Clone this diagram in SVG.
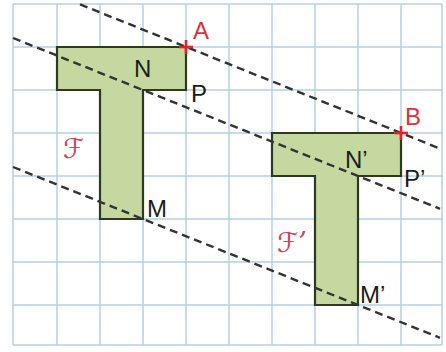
<svg xmlns="http://www.w3.org/2000/svg" width="446" height="352" viewBox="0 0 446 352">
<style>
.grid line{stroke:#b3d0e6;stroke-width:1.5}
.shape{fill:#c4d89f;stroke:#2c3a22;stroke-width:2.2;stroke-linejoin:miter}
.dash{stroke:#333;stroke-width:2.4;stroke-dasharray:8 5;fill:none}
.lbl{font-family:"Liberation Sans",Arial,sans-serif;font-size:24px;fill:#1c1c1c}
.red{font-family:"Liberation Sans",Arial,sans-serif;font-size:24px;fill:#e0323c}
.scr{font-family:"DejaVu Serif","DejaVu Sans",serif;font-style:italic;font-size:27px;fill:#d8405a}
.cross{stroke:#e8202a;stroke-width:2.6}
</style>
<rect width="446" height="352" fill="#fff"/>
<g class="grid" id="grid">
<line x1="13" y1="4" x2="13" y2="345"/>
<line x1="57" y1="4" x2="57" y2="345"/>
<line x1="100" y1="4" x2="100" y2="345"/>
<line x1="143" y1="4" x2="143" y2="345"/>
<line x1="186" y1="4" x2="186" y2="345"/>
<line x1="229" y1="4" x2="229" y2="345"/>
<line x1="272" y1="4" x2="272" y2="345"/>
<line x1="315" y1="4" x2="315" y2="345"/>
<line x1="358" y1="4" x2="358" y2="345"/>
<line x1="401" y1="4" x2="401" y2="345"/>
<line x1="442" y1="4" x2="442" y2="345"/>
<line x1="13" y1="4" x2="442" y2="4"/>
<line x1="13" y1="47" x2="442" y2="47"/>
<line x1="13" y1="90" x2="442" y2="90"/>
<line x1="13" y1="133" x2="442" y2="133"/>
<line x1="13" y1="176" x2="442" y2="176"/>
<line x1="13" y1="219" x2="442" y2="219"/>
<line x1="13" y1="262" x2="442" y2="262"/>
<line x1="13" y1="305" x2="442" y2="305"/>
<line x1="13" y1="345" x2="442" y2="345"/>
</g>
<g id="F">
<polygon class="shape" points="57,47 186,47 186,90 143,90 143,219 100,219 100,90 57,90"/>
<text class="scr" x="63" y="158">ℱ</text>
</g>
<g id="F2">
<polygon class="shape" points="272,133 401,133 401,176 358,176 358,305 315,305 315,176 272,176"/>
<text class="scr" x="277" y="252">ℱ’</text>
</g>
<g id="connectors">
<line class="dash" x1="80" y1="4.4" x2="440" y2="148.6"/>
<line class="dash" x1="13" y1="38" x2="440" y2="208.8"/>
<line class="dash" x1="13" y1="167" x2="440" y2="337.8"/>
</g>
<g id="A">
<line class="cross" x1="179" y1="47" x2="193" y2="47"/>
<line class="cross" x1="186" y1="40" x2="186" y2="54"/>
<text class="red" x="193" y="39">A</text>
</g>
<g id="B">
<line class="cross" x1="394" y1="133" x2="408" y2="133"/>
<line class="cross" x1="401" y1="126" x2="401" y2="140"/>
<text class="red" x="405" y="125">B</text>
</g>
<g id="N"><text class="lbl" x="134" y="77">N</text></g>
<g id="P"><text class="lbl" x="191" y="102">P</text></g>
<g id="M"><text class="lbl" x="147" y="217">M</text></g>
<g id="N2"><text class="lbl" x="345" y="168">N’</text></g>
<g id="P2"><text class="lbl" x="404" y="187">P’</text></g>
<g id="M2"><text class="lbl" x="360" y="303">M’</text></g>
</svg>
